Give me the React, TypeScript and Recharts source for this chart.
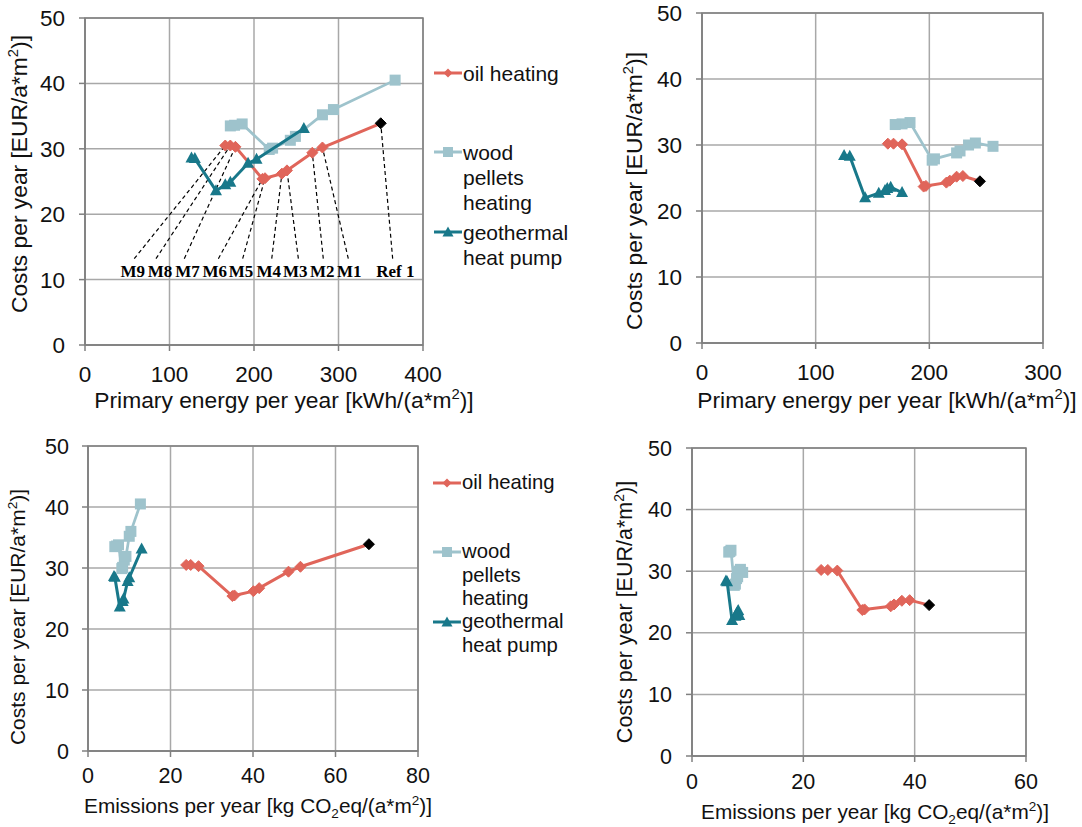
import React from "react";
import {
  ScatterChart,
  Scatter,
  XAxis,
  YAxis,
  CartesianGrid,
  ReferenceLine,
  ReferenceArea,
  Legend,
  Label,
} from "recharts";

// ---------- data ----------
const scenarioNames = ["Ref", "M1", "M2", "M3", "M4", "M5", "M6", "M7", "M8", "M9"];
const annotationTexts = ["Ref 1", "M1", "M2", "M3", "M4", "M5", "M6", "M7", "M8", "M9"];
// annotation anchors in primary-energy data units (top-left chart)
const annotationTextX = [367.2, 312.8, 280.8, 248.9, 217.4, 184.6, 153.5, 121.3, 88.8, 56.6];
const annotationLineX = [364.1, 311.6, 282.0, 252.5, 221.0, 186.6, 157.8, 117.5, 84.0, 58.3];
const annotationLineY = 13.2;
const annotationTextY = 10.4;

const costTicks = [0, 10, 20, 30, 40, 50];
const primaryTicksRef1 = [0, 100, 200, 300, 400];
const primaryTicksRef2 = [0, 100, 200, 300];
const emissionTicksRef1 = [0, 20, 40, 60, 80];
const emissionTicksRef2 = [0, 20, 40, 60];

// Reference building 1 (left column)
const oilCostRef1 = [33.9, 30.2, 29.4, 26.7, 26.2, 25.5, 25.4, 30.3, 30.5, 30.5];
const oilPrimaryRef1 = [350, 281, 269, 239, 233, 213, 210, 178, 172, 166];
const oilEmissionRef1 = [68.1, 51.5, 48.6, 41.5, 40.1, 35.5, 35.0, 26.8, 24.9, 23.8];
const woodCostRef1 = [40.5, 36.0, 35.2, 31.9, 31.3, 30.1, 29.9, 33.8, 33.6, 33.5];
const woodPrimaryRef1 = [367, 294, 281, 249, 243, 222, 218, 186, 177, 172];
const woodEmissionRef1 = [12.7, 10.4, 10.0, 9.2, 8.8, 8.4, 8.2, 7.4, 6.9, 6.5];
const geoCostRef1 = [33.1, 28.4, 27.8, 24.9, 24.5, 23.6, 28.5, 28.6];
const geoPrimaryRef1 = [259, 203, 193, 172, 166, 155, 130, 126];
const geoEmissionRef1 = [13.0, 10.0, 9.6, 8.6, 8.4, 7.7, 6.5, 6.3];

// Reference building 2 (right column)
const oilCostRef2 = [24.5, 25.3, 25.2, 24.6, 24.3, 23.8, 23.7, 30.1, 30.2, 30.2];
const oilPrimaryRef2 = [244.5, 229.5, 224, 218, 215, 197, 195, 176, 168.5, 163.5];
const oilEmissionRef2 = [42.6, 39.1, 37.7, 36.3, 35.7, 31.0, 30.6, 26.1, 24.4, 23.2];
const woodCostRef2 = [29.8, 30.3, 30.0, 29.1, 28.8, 27.9, 27.7, 33.4, 33.2, 33.1];
const woodPrimaryRef2 = [256, 240.5, 234.5, 227, 224, 204.5, 202.5, 183, 176, 170];
const woodEmissionRef2 = [9.1, 8.7, 8.5, 8.2, 8.0, 7.8, 7.6, 7.0, 6.8, 6.6];
const geoCostRef2 = [22.8, 23.6, 23.4, 23.1, 22.7, 22.0, 28.3, 28.4];
const geoPrimaryRef2 = [176, 166, 163, 161, 155.5, 143.5, 130, 125];
const geoEmissionRef2 = [8.5, 8.3, 8.2, 8.0, 7.8, 7.2, 6.3, 6.1];

const seriesNames = ["oil heating", "wood pellets heating", "geothermal heat pump"];
const legendLines = [["oil heating"], ["wood", "pellets", "heating"], ["geothermal", "heat pump"]];

// ---------- styles ----------
const OIL = "#E0655A";
const WOOD = "#9EC3CC";
const GEO = "#18788A";
const GRID = "#a8a8a8";
const BORDER = "#808080";
const FONT = "'Liberation Sans', Arial, Helvetica, sans-serif";
const SERIF = "'Liberation Serif', 'Times New Roman', serif";

const build = (xs: number[], ys: number[]) =>
  xs.map((x, i) => ({ x, y: ys[i], name: scenarioNames[i] }));

const diamondPath = (cx: number, cy: number, r: number) =>
  `M${cx},${cy - r}L${cx + r},${cy}L${cx},${cy + r}L${cx - r},${cy}Z`;

const oilShape = (props: any) => {
  const { cx, cy, payload } = props;
  if (cx == null || cy == null) return <g />;
  const isRef = payload && payload.name === "Ref";
  return <path d={diamondPath(cx, cy, 5.5)} fill={isRef ? "#000" : OIL} stroke={isRef ? "#000" : OIL} strokeWidth={1} />;
};
const woodShape = (props: any) => {
  const { cx, cy } = props;
  if (cx == null || cy == null) return <g />;
  return <rect x={cx - 5.5} y={cy - 5.5} width={11} height={11} fill={WOOD} />;
};
const geoShape = (props: any) => {
  const { cx, cy } = props;
  if (cx == null || cy == null) return <g />;
  return <path d={`M${cx},${cy - 6.5}L${cx + 6},${cy + 4.5}L${cx - 6},${cy + 4.5}Z`} fill={GEO} />;
};
const annotationShape = (props: any) => {
  const { cx, cy, payload } = props;
  if (cx == null || cy == null) return <g />;
  return (
    <text x={cx} y={cy} textAnchor="middle" fontFamily={SERIF} fontWeight="bold" fontSize={17} fill="#000">
      {payload.label}
    </text>
  );
};

const LegendMarker = ({ kind, color }: { kind: number; color: string }) => (
  <svg width={28} height={14} style={{ position: "absolute", left: 0, top: "50%", marginTop: -7 }}>
    <line x1={0} y1={7} x2={28} y2={7} stroke={color} strokeWidth={3} />
    {kind === 0 && <path d={diamondPath(14, 7, 4.5)} fill={color} />}
    {kind === 1 && <rect x={9} y={2} width={10} height={10} fill={color} />}
    {kind === 2 && <path d="M14,1.5L19.5,11.5L8.5,11.5Z" fill={color} />}
  </svg>
);

type PanelProps = {
  left: number;
  top: number;
  width: number;
  height: number;
  marginTop: number;
  marginRight: number;
  yAxisWidth: number;
  xAxisHeight: number;
  xMax: number;
  xTicks: number[];
  xKind: "primary" | "emission";
  oilX: number[];
  oilY: number[];
  woodX: number[];
  woodY: number[];
  geoX: number[];
  geoY: number[];
  tickFont: number;
  xTickMargin: number;
  yTickMargin: number;
  yTitle: { x: number; y: number; fs: number };
  xTitle: { x: number; y: number; fs: number };
  legend?: { offset: number; centers: number[]; lh: number; fs: number };
  annotations?: boolean;
};

const YTitle = ({ x, y, fs }: { x: number; y: number; fs: number }) => (
  <text x={x} y={y} transform={`rotate(-90 ${x} ${y})`} textAnchor="middle" fontSize={fs} fontFamily={FONT} fill="#111">
    <tspan>Costs per year [EUR/a*m</tspan>
    <tspan dy={-fs * 0.38} fontSize={fs * 0.65}>2</tspan>
    <tspan dy={fs * 0.38}>)]</tspan>
  </text>
);

const XTitle = ({ x, y, fs, kind }: { x: number; y: number; fs: number; kind: string }) =>
  kind === "primary" ? (
    <text x={x} y={y} textAnchor="middle" fontSize={fs} fontFamily={FONT} fill="#111">
      <tspan>Primary energy per year [kWh/(a*m</tspan>
      <tspan dy={-fs * 0.38} fontSize={fs * 0.65}>2</tspan>
      <tspan dy={fs * 0.38}>)]</tspan>
    </text>
  ) : (
    <text x={x} y={y} textAnchor="middle" fontSize={fs} fontFamily={FONT} fill="#111">
      <tspan>Emissions per year [kg CO</tspan>
      <tspan dy={fs * 0.25} fontSize={fs * 0.65}>2</tspan>
      <tspan dy={-fs * 0.25}>eq/(a*m</tspan>
      <tspan dy={-fs * 0.38} fontSize={fs * 0.65}>2</tspan>
      <tspan dy={fs * 0.38}>)]</tspan>
    </text>
  );

function Panel(p: PanelProps) {
  const oil = build(p.oilX, p.oilY);
  const wood = build(p.woodX, p.woodY);
  const geo = build(p.geoX, p.geoY);
  const annot = annotationTextX.map((x, i) => ({ x, y: annotationTextY, label: annotationTexts[i] }));
  const colors = [OIL, WOOD, GEO];
  const LEGEND_W = 170;
  return (
    <div style={{ position: "absolute", left: p.left, top: p.top, width: p.width, height: p.height }}>
      <ScatterChart
        width={p.width}
        height={p.height}
        margin={{ top: p.marginTop, right: p.marginRight, bottom: 0, left: 0 }}
      >
        <CartesianGrid stroke={GRID} strokeWidth={1.5} />
        <XAxis
          type="number"
          dataKey="x"
          domain={[0, p.xMax]}
          ticks={p.xTicks}
          interval={0}
          allowDataOverflow
          height={p.xAxisHeight}
          tickSize={6}
          tickMargin={p.xTickMargin}
          axisLine={{ stroke: BORDER, strokeWidth: 1.5 }}
          tickLine={{ stroke: BORDER, strokeWidth: 1.5 }}
          tick={{ fontSize: p.tickFont, fill: "#111", fontFamily: FONT }}
        >
          <Label content={() => <XTitle x={p.xTitle.x} y={p.xTitle.y} fs={p.xTitle.fs} kind={p.xKind} />} />
        </XAxis>
        <YAxis
          type="number"
          dataKey="y"
          domain={[0, 50]}
          ticks={costTicks}
          interval={0}
          allowDataOverflow
          width={p.yAxisWidth}
          tickSize={6}
          tickMargin={p.yTickMargin}
          axisLine={{ stroke: BORDER, strokeWidth: 1.5 }}
          tickLine={{ stroke: BORDER, strokeWidth: 1.5 }}
          tick={{ fontSize: p.tickFont, fill: "#111", fontFamily: FONT }}
        >
          <Label content={() => <YTitle x={p.yTitle.x} y={p.yTitle.y} fs={p.yTitle.fs} />} />
        </YAxis>
        <ReferenceArea x1={0} x2={p.xMax} y1={0} y2={50} fill="none" stroke={BORDER} strokeWidth={1.5} fillOpacity={0} />
        {p.annotations &&
          annotationLineX.map((ax, i) => (
            <ReferenceLine
              key={"a" + i}
              segment={[
                { x: ax, y: annotationLineY },
                { x: p.oilX[i], y: p.oilY[i] },
              ]}
              stroke="#000"
              strokeWidth={1.2}
              strokeDasharray="4 3"
            />
          ))}
        <Scatter
          name={seriesNames[0]}
          data={oil}
          fill={OIL}
          stroke={OIL}
          line={{ stroke: OIL, strokeWidth: 3 }}
          lineType="joint"
          shape={oilShape}
          isAnimationActive={false}
        />
        <Scatter
          name={seriesNames[1]}
          data={wood}
          fill={WOOD}
          stroke={WOOD}
          line={{ stroke: WOOD, strokeWidth: 2.75 }}
          lineType="joint"
          shape={woodShape}
          isAnimationActive={false}
        />
        <Scatter
          name={seriesNames[2]}
          data={geo}
          fill={GEO}
          stroke={GEO}
          line={{ stroke: GEO, strokeWidth: 3 }}
          lineType="joint"
          shape={geoShape}
          isAnimationActive={false}
        />
        {p.annotations && (
          <Scatter name="labels" data={annot} shape={annotationShape} legendType="none" isAnimationActive={false} />
        )}
        {p.legend && (
          <Legend
            layout="vertical"
            align="right"
            verticalAlign="top"
            wrapperStyle={{ left: p.width - LEGEND_W, top: 0, width: LEGEND_W, height: 300 }}
            content={() => (
              <div style={{ position: "relative", width: LEGEND_W, height: 300, fontFamily: FONT }}>
                {legendLines.map((lines, k) => (
                  <div
                    key={k}
                    style={{
                      position: "absolute",
                      left: p.legend!.offset,
                      top: p.legend!.centers[k] - p.legend!.lh / 2,
                      width: LEGEND_W - p.legend!.offset,
                    }}
                  >
                    <div style={{ position: "relative", height: p.legend!.lh }}>
                      <LegendMarker kind={k} color={colors[k]} />
                    </div>
                    {lines.map((t, j) => (
                      <div
                        key={j}
                        style={{
                          position: "absolute",
                          left: 29,
                          top: j * p.legend!.lh,
                          height: p.legend!.lh,
                          lineHeight: p.legend!.lh + "px",
                          fontSize: p.legend!.fs,
                          color: "#111",
                          whiteSpace: "nowrap",
                        }}
                      >
                        {t}
                      </div>
                    ))}
                  </div>
                ))}
              </div>
            )}
          />
        )}
      </ScatterChart>
    </div>
  );
}

export default function App() {
  return (
    <div style={{ position: "absolute", left: 0, top: 0, width: 1082, height: 827, background: "#fff" }}>
      <Panel
        left={0}
        top={0}
        width={593}
        height={420}
        marginTop={18}
        marginRight={0}
        yAxisWidth={85}
        xAxisHeight={75}
        xMax={400}
        xTicks={primaryTicksRef1}
        xKind="primary"
        oilX={oilPrimaryRef1}
        oilY={oilCostRef1}
        woodX={woodPrimaryRef1}
        woodY={woodCostRef1}
        geoX={geoPrimaryRef1}
        geoY={geoCostRef1}
        tickFont={22.5}
        xTickMargin={15}
        yTickMargin={14}
        yTitle={{ x: 27, y: 174, fs: 22.8 }}
        xTitle={{ x: 284, y: 408, fs: 22.8 }}
        legend={{ offset: 11, centers: [73, 152, 232], lh: 25, fs: 21 }}
        annotations
      />
      <Panel
        left={600}
        top={0}
        width={482}
        height={420}
        marginTop={13}
        marginRight={39}
        yAxisWidth={102}
        xAxisHeight={77}
        xMax={300}
        xTicks={primaryTicksRef2}
        xKind="primary"
        oilX={oilPrimaryRef2}
        oilY={oilCostRef2}
        woodX={woodPrimaryRef2}
        woodY={woodCostRef2}
        geoX={geoPrimaryRef2}
        geoY={geoCostRef2}
        tickFont={22.5}
        xTickMargin={15}
        yTickMargin={14}
        yTitle={{ x: 42, y: 191, fs: 22.8 }}
        xTitle={{ x: 287, y: 408, fs: 22.8 }}
      />
      <Panel
        left={0}
        top={430}
        width={588}
        height={397}
        marginTop={16}
        marginRight={0}
        yAxisWidth={88}
        xAxisHeight={76}
        xMax={80}
        xTicks={emissionTicksRef1}
        xKind="emission"
        oilX={oilEmissionRef1}
        oilY={oilCostRef1}
        woodX={woodEmissionRef1}
        woodY={woodCostRef1}
        geoX={geoEmissionRef1}
        geoY={geoCostRef1}
        tickFont={21.5}
        xTickMargin={11}
        yTickMargin={13}
        yTitle={{ x: 25, y: 187, fs: 21 }}
        xTitle={{ x: 258, y: 383, fs: 20.8 }}
        legend={{ offset: 15, centers: [53, 122, 192], lh: 23.5, fs: 20.3 }}
      />
      <Panel
        left={600}
        top={430}
        width={482}
        height={397}
        marginTop={18}
        marginRight={56}
        yAxisWidth={92}
        xAxisHeight={71}
        xMax={60}
        xTicks={emissionTicksRef2}
        xKind="emission"
        oilX={oilEmissionRef2}
        oilY={oilCostRef2}
        woodX={woodEmissionRef2}
        woodY={woodCostRef2}
        geoX={geoEmissionRef2}
        geoY={geoCostRef2}
        tickFont={21.5}
        xTickMargin={12}
        yTickMargin={14}
        yTitle={{ x: 32, y: 182, fs: 21.5 }}
        xTitle={{ x: 275, y: 389, fs: 20.8 }}
      />
    </div>
  );
}
